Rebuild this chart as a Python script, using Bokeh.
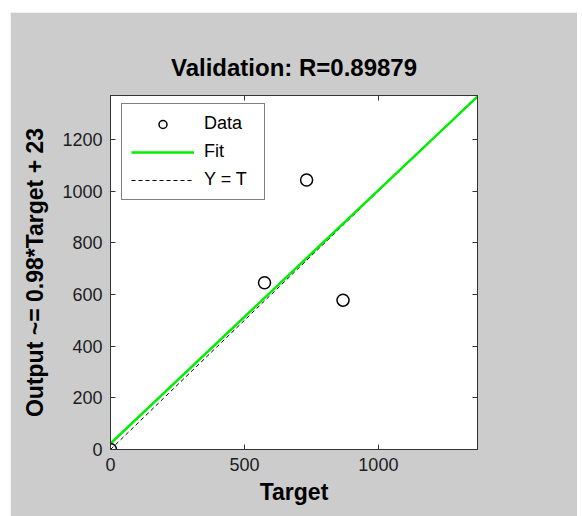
from bokeh.plotting import figure
from bokeh.models import (Range1d, FixedTicker, LinearAxis, Legend, LegendItem,
                          Spacer, CustomJSTickFormatter)
from bokeh.layouts import column, row
from bokeh.embed import file_html
from bokeh.resources import INLINE

# ---- data ----
target = [0, 575, 732, 868]
output = [0, 645, 1043, 578]
fit_x = [0, 1370]
fit_y = [23, 1366]
ident_x = [0, 1370]
ident_y = [0, 1370]
x_ticks = [0, 500, 1000]
y_ticks = [0, 200, 400, 600, 800, 1000, 1200]
title_text = "Validation: R=0.89879"
x_label = "Target"
y_label = "Output ~= 0.98*Target + 23"
legend_labels = ["Data", "Fit", "Y = T"]

FONT = "Liberation Sans"
GRAY = "#cccccc"
AX = "#333333"

p = figure(width=567, height=504, output_backend="svg", toolbar_location=None,
           x_range=Range1d(0, 1370), y_range=Range1d(0, 1370),
           min_border_left=100, min_border_right=100,
           min_border_top=83, min_border_bottom=67,
           background_fill_color="white", border_fill_color=GRAY,
           outline_line_color=AX)

p.title.text = title_text
p.title.align = "center"
p.title.text_font = FONT
p.title.text_font_size = "24px"
p.title.text_font_style = "bold"
p.title.text_color = "black"
p.title.standoff = 30

p.xgrid.visible = False
p.ygrid.visible = False

def style_axis(ax, ticks, show_labels):
    ax.ticker = FixedTicker(ticks=ticks)
    ax.major_tick_in = 5
    ax.major_tick_out = 0
    ax.minor_tick_line_color = None
    ax.axis_line_color = AX
    ax.major_tick_line_color = AX
    ax.major_label_text_font = FONT
    ax.major_label_text_font_size = "18px"
    ax.major_label_text_color = "#1c1c24"
    if not show_labels:
        ax.formatter = CustomJSTickFormatter(code="return ''")
        ax.major_label_standoff = 0

xa = p.xaxis[0]
ya = p.yaxis[0]
style_axis(xa, x_ticks, True)
style_axis(ya, y_ticks, True)
xa.major_label_standoff = 8
ya.major_label_standoff = 8
xa.axis_label = x_label
ya.axis_label = y_label
for a in (xa, ya):
    a.axis_label_text_font = FONT
    a.axis_label_text_font_size = "23px"
    a.axis_label_text_font_style = "bold"
    a.axis_label_text_color = "black"
xa.axis_label_standoff = 5
ya.axis_label_standoff = 11

top = LinearAxis()
right = LinearAxis()
style_axis(top, x_ticks, False)
style_axis(right, y_ticks, False)
p.add_layout(top, "above")
p.add_layout(right, "right")

r_ident = p.line(ident_x, ident_y, line_color="black", line_dash="4 3", line_width=1)
r_fit = p.line(fit_x, fit_y, line_color="#00ee00", line_width=2.5)
r_data = p.scatter(target, output, marker="circle", size=12, fill_color=None,
                   line_color="black", line_width=1.5)

legend = Legend(items=[LegendItem(label=legend_labels[0], renderers=[r_data]),
                       LegendItem(label=legend_labels[1], renderers=[r_fit]),
                       LegendItem(label=legend_labels[2], renderers=[r_ident])],
                location=(11, 249), padding=9, spacing=7,
                glyph_width=63, glyph_height=20, label_height=20,
                label_standoff=10, label_width=51,
                label_text_font=FONT, label_text_font_size="18px",
                label_text_color="black",
                border_line_color="black", border_line_width=1,
                background_fill_color="white", margin=0)
p.add_layout(legend)

layout = column(Spacer(height=12), row(Spacer(width=10), p))

open("out.html", "w").write(file_html(layout, INLINE))
